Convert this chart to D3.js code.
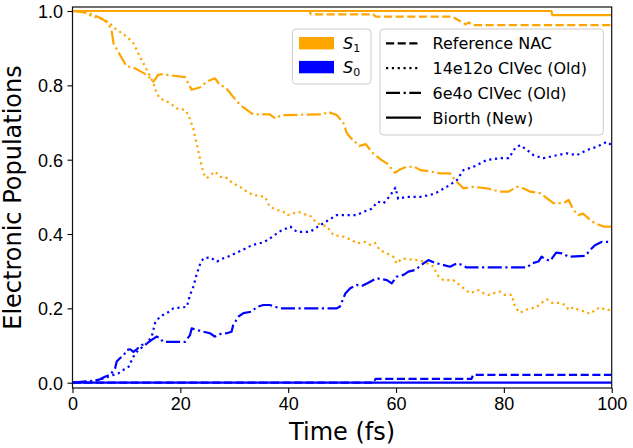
<!DOCTYPE html>
<html>
<head>
<meta charset="utf-8">
<script src="https://cdn.jsdelivr.net/npm/d3@7"></script>
<style>
  html, body { margin: 0; padding: 0; background: #fff; }
  svg { display: block; font-family: "DejaVu Sans", sans-serif; }
</style>
</head>
<body>
<svg id="chart" width="633" height="448"></svg>
<script>
// ---------------- data (time in fs, population) ----------------
const xTicks = [0, 20, 40, 60, 80, 100];
const yTicks = [0.0, 0.2, 0.4, 0.6, 0.8, 1.0];

const stateNames = ["S1", "S0"];
const methodNames = ["Reference NAC", "14e12o CIVec (Old)", "6e4o CIVec (Old)", "Biorth (New)"];

const refS1 = [[0,1],[44,1],[44.2,0.991],[55.8,0.991],[56.2,0.985],[70.4,0.985],[72,0.972],[72.9,0.964],[73.5,0.969],[74.3,0.962],[100,0.962]];
const refS0 = [[0,0],[55.8,0],[56.2,0.01],[74,0.01],[74.3,0.021],[100,0.021]];

const civ14S1 = [[0,1],[1.7,1.0],[3.2,0.989],[5.1,0.98],[6.6,0.971],[7.9,0.953],[8.8,0.944],[10.1,0.931],[11.3,0.913],[12.2,0.886],[12.8,0.868],[13.5,0.85],[14.1,0.832],[15,0.806],[15.6,0.779],[16.2,0.765],[18.1,0.752],[19.3,0.738],[20.9,0.734],[21.5,0.72],[22.4,0.684],[23,0.644],[23.7,0.599],[24.3,0.563],[24.9,0.55],[26.4,0.568],[27.4,0.554],[28.3,0.554],[29.8,0.536],[31.3,0.525],[32.3,0.514],[33.5,0.505],[35.7,0.5],[36.6,0.473],[37.9,0.465],[39.1,0.46],[39.9,0.451],[41.9,0.46],[43.4,0.451],[44.3,0.447],[45.3,0.429],[47.2,0.42],[48.4,0.397],[50.2,0.393],[51.8,0.384],[52.7,0.375],[54.3,0.379],[55.2,0.371],[56.1,0.376],[57,0.357],[58.3,0.348],[59.5,0.339],[60.1,0.321],[61.1,0.334],[63.9,0.33],[65.1,0.326],[67,0.312],[67.6,0.29],[68.8,0.276],[70.6,0.276],[72.2,0.258],[73.7,0.241],[75.3,0.249],[76.2,0.241],[77.1,0.236],[78.4,0.242],[79.3,0.245],[80.2,0.236],[81.5,0.236],[81.7,0.222],[82.1,0.203],[83,0.188],[84,0.196],[85.2,0.2],[86.1,0.204],[87,0.215],[88,0.224],[88.9,0.215],[90.1,0.215],[91.4,0.209],[92,0.196],[92.9,0.203],[93.8,0.196],[95.1,0.191],[96,0.185],[96.9,0.196],[97.9,0.203],[98.8,0.196],[100,0.196]];
const civ14S0 = [[0,0],[3.6,0.003],[5.4,0.01],[7.6,0.021],[8.5,0.025],[9.4,0.034],[10.4,0.043],[11.3,0.07],[12.2,0.088],[13.5,0.101],[14.7,0.124],[15.3,0.16],[16.2,0.178],[17.5,0.187],[18.7,0.2],[21.2,0.204],[21.8,0.236],[22.4,0.258],[23,0.29],[23.7,0.321],[24.3,0.335],[25.5,0.337],[26.8,0.326],[28,0.335],[29.2,0.341],[31.1,0.354],[33.3,0.37],[35.5,0.378],[37,0.392],[38.3,0.406],[40.4,0.42],[41.6,0.406],[44.1,0.406],[45.3,0.418],[47.2,0.435],[49,0.451],[52.7,0.451],[54,0.46],[55.5,0.468],[56.6,0.487],[57.7,0.483],[58.9,0.503],[59.9,0.525],[60.4,0.495],[62,0.5],[64.5,0.5],[66.3,0.505],[67.6,0.512],[69.4,0.527],[71.3,0.545],[72.5,0.572],[74.4,0.581],[76.8,0.599],[79.3,0.604],[80.9,0.604],[82.1,0.631],[83,0.639],[84.3,0.626],[85.5,0.612],[87.3,0.604],[89.8,0.612],[91.7,0.617],[93.5,0.612],[95.4,0.626],[97.3,0.635],[99.1,0.648],[100,0.639]];

const civ6S1 = [[0,1],[3,0.995],[5.4,0.98],[6.6,0.967],[7.3,0.944],[7.6,0.913],[8.8,0.882],[10.1,0.85],[11,0.85],[12.2,0.841],[13.8,0.828],[15,0.81],[15.9,0.828],[16.5,0.83],[20.9,0.822],[22.1,0.788],[23.7,0.795],[24.9,0.81],[26.4,0.819],[27.4,0.8],[28.3,0.796],[29.8,0.769],[31.1,0.747],[33.5,0.722],[36.6,0.722],[37.6,0.711],[38.8,0.72],[46.5,0.722],[47.3,0.729],[49,0.72],[50.2,0.7],[50.9,0.671],[51.5,0.66],[52.4,0.648],[53.2,0.637],[54.4,0.642],[55.5,0.62],[57.4,0.598],[58.3,0.59],[59.8,0.565],[60.8,0.574],[61.9,0.581],[63.4,0.581],[64.5,0.572],[66.5,0.568],[68.2,0.563],[70,0.563],[71,0.545],[71.6,0.536],[72.5,0.523],[74.4,0.527],[76.8,0.523],[79.3,0.514],[80.9,0.514],[82.4,0.527],[83.6,0.523],[84.9,0.514],[86.7,0.51],[88,0.496],[89.2,0.483],[91.1,0.483],[92,0.492],[92.9,0.465],[93.8,0.451],[94.7,0.455],[96,0.438],[96.9,0.429],[98.5,0.42],[100,0.42]];
const civ6S0 = [[0,0],[3.9,0.005],[5.1,0.009],[6,0.016],[7,0.021],[7.9,0.039],[8.2,0.057],[8.8,0.066],[9.4,0.072],[10.1,0.088],[10.7,0.09],[11.3,0.083],[11.9,0.09],[12.8,0.101],[13.8,0.106],[14.7,0.115],[15.6,0.124],[16.2,0.12],[16.8,0.11],[20.9,0.11],[21.8,0.128],[22.1,0.146],[23,0.142],[24.3,0.137],[25.5,0.133],[26.4,0.124],[27.4,0.131],[28.6,0.133],[29.5,0.137],[29.8,0.155],[30.8,0.178],[31.7,0.187],[33.2,0.191],[34.2,0.204],[35.4,0.209],[36.6,0.209],[37.6,0.204],[38.5,0.2],[49,0.2],[49.6,0.205],[50.6,0.24],[51.5,0.254],[52.7,0.263],[53.6,0.26],[54.6,0.267],[56.4,0.281],[58.3,0.276],[59.2,0.267],[60.1,0.285],[61.4,0.29],[62.3,0.299],[63.5,0.303],[65.1,0.321],[66,0.33],[66.6,0.326],[67.6,0.321],[70,0.312],[71.3,0.321],[72.2,0.317],[73.1,0.31],[84.3,0.31],[85.2,0.321],[86.4,0.326],[87,0.339],[87.7,0.332],[88.6,0.328],[89.7,0.35],[90.8,0.348],[92,0.339],[95.1,0.341],[96,0.357],[96.9,0.37],[98.2,0.379],[100,0.379]];

const bioS1 = [[0,1],[88.8,1],[89,0.989],[100,0.989]];
const bioS0 = [[0,0],[100,0]];

// ---------------- styling ----------------
const colS1 = "#FFA500", colS0 = "#0000FF";
const LW = 2.2;
const dashes = {
  "Reference NAC": (3.7*LW)+","+(1.6*LW),
  "14e12o CIVec (Old)": (1*LW)+","+(1.65*LW),
  "6e4o CIVec (Old)": (6.4*LW)+","+(1.6*LW)+","+(1*LW)+","+(1.6*LW),
  "Biorth (New)": null
};

const series = [
  {m: "Reference NAC", c: colS1, d: refS1},
  {m: "Reference NAC", c: colS0, d: refS0},
  {m: "14e12o CIVec (Old)", c: colS1, d: civ14S1},
  {m: "14e12o CIVec (Old)", c: colS0, d: civ14S0},
  {m: "6e4o CIVec (Old)", c: colS1, d: civ6S1},
  {m: "6e4o CIVec (Old)", c: colS0, d: civ6S0},
  {m: "Biorth (New)", c: colS1, d: bioS1},
  {m: "Biorth (New)", c: colS0, d: bioS0}
];

// ---------------- layout ----------------
const L = 72.5, R = 611.7, T = 7, B = 388;
const svg = d3.select("#chart");
const x = d3.scaleLinear().domain([0, 100]).range([L, R]);
const y = d3.scaleLinear().domain([-0.0143, 1.0108]).range([B, T]);

svg.append("defs").append("clipPath").attr("id", "clip")
  .append("rect").attr("x", L).attr("y", T).attr("width", R - L).attr("height", B - T);

const line = d3.line().x(d => x(d[0])).y(d => y(d[1]));
const gLines = svg.append("g").attr("clip-path", "url(#clip)");
series.forEach(s => {
  const p = gLines.append("path").datum(s.d)
    .attr("d", line)
    .attr("fill", "none")
    .attr("stroke", s.c)
    .attr("stroke-width", LW)
    .attr("stroke-linejoin", "round")
    .attr("stroke-linecap", s.m === "Biorth (New)" ? "square" : "butt");
  if (dashes[s.m]) p.attr("stroke-dasharray", dashes[s.m]);
});

// axes
const xAxis = d3.axisBottom(x).tickValues(xTicks).tickSize(5).tickPadding(4).tickFormat(d3.format("d"));
const gx = svg.append("g").attr("transform", `translate(0,${B})`).call(xAxis);
gx.select(".domain").remove();
gx.selectAll("line").attr("stroke", "#000").attr("stroke-width", 1.1);
gx.selectAll("text").attr("font-size", 18).attr("fill", "#000")
  .attr("dy", null).attr("y", 22);

const yAxis = d3.axisLeft(y).tickValues(yTicks).tickSize(5).tickPadding(4).tickFormat(d3.format(".1f"));
const gy = svg.append("g").attr("transform", `translate(${L},0)`).call(yAxis);
gy.select(".domain").remove();
gy.selectAll("line").attr("stroke", "#000").attr("stroke-width", 1.1);
gy.selectAll("text").attr("font-size", 18).attr("fill", "#000")
  .attr("x", -9.5).attr("dy", "0.36em");

// frame
svg.append("rect").attr("x", L).attr("y", T).attr("width", R - L).attr("height", B - T)
  .attr("fill", "none").attr("stroke", "#111").attr("stroke-width", 1.2);

// axis labels
svg.append("text").attr("x", (L + R) / 2).attr("y", 440).attr("text-anchor", "middle")
  .attr("font-size", 24).attr("fill", "#000").text("Time (fs)");
svg.append("text").attr("transform", `translate(20.5,${(T + B) / 2}) rotate(-90)`)
  .attr("text-anchor", "middle").attr("font-size", 24).attr("fill", "#000")
  .text("Electronic Populations");

// legend 1: states
const lg1 = svg.append("g");
lg1.append("rect").attr("x", 292.5).attr("y", 29).attr("width", 78.5).attr("height", 55)
  .attr("rx", 3.5).attr("fill", "#fff").attr("fill-opacity", 0.8)
  .attr("stroke", "#cccccc").attr("stroke-width", 1);
const stateCols = [colS1, colS0];
const stateSub = ["1", "0"];
stateNames.forEach((nm, i) => {
  const cy = 43.2 + i * 23.9;
  lg1.append("rect").attr("x", 299).attr("y", cy - 6.2).attr("width", 35).attr("height", 12.4)
    .attr("fill", stateCols[i]);
  const t = lg1.append("text").attr("x", 343).attr("y", cy + 5.8).attr("font-size", 16).attr("fill", "#000");
  t.append("tspan").attr("font-style", "italic").text("S");
  t.append("tspan").attr("font-size", 11).attr("dy", 3).text(stateSub[i]);
});

// legend 2: methods
const lg2 = svg.append("g");
lg2.append("rect").attr("x", 380).attr("y", 29).attr("width", 223.3).attr("height", 106)
  .attr("rx", 3.5).attr("fill", "#fff").attr("fill-opacity", 0.8)
  .attr("stroke", "#cccccc").attr("stroke-width", 1);
methodNames.forEach((nm, i) => {
  const cy = 43.3 + i * 24.8;
  const ln = lg2.append("line").attr("x1", 386).attr("x2", 421).attr("y1", cy).attr("y2", cy)
    .attr("stroke", "#000").attr("stroke-width", LW);
  if (dashes[nm]) ln.attr("stroke-dasharray", dashes[nm]);
  lg2.append("text").attr("x", 432.5).attr("y", cy + 5.8).attr("font-size", 16).attr("fill", "#000").text(nm);
});
</script>
</body>
</html>
